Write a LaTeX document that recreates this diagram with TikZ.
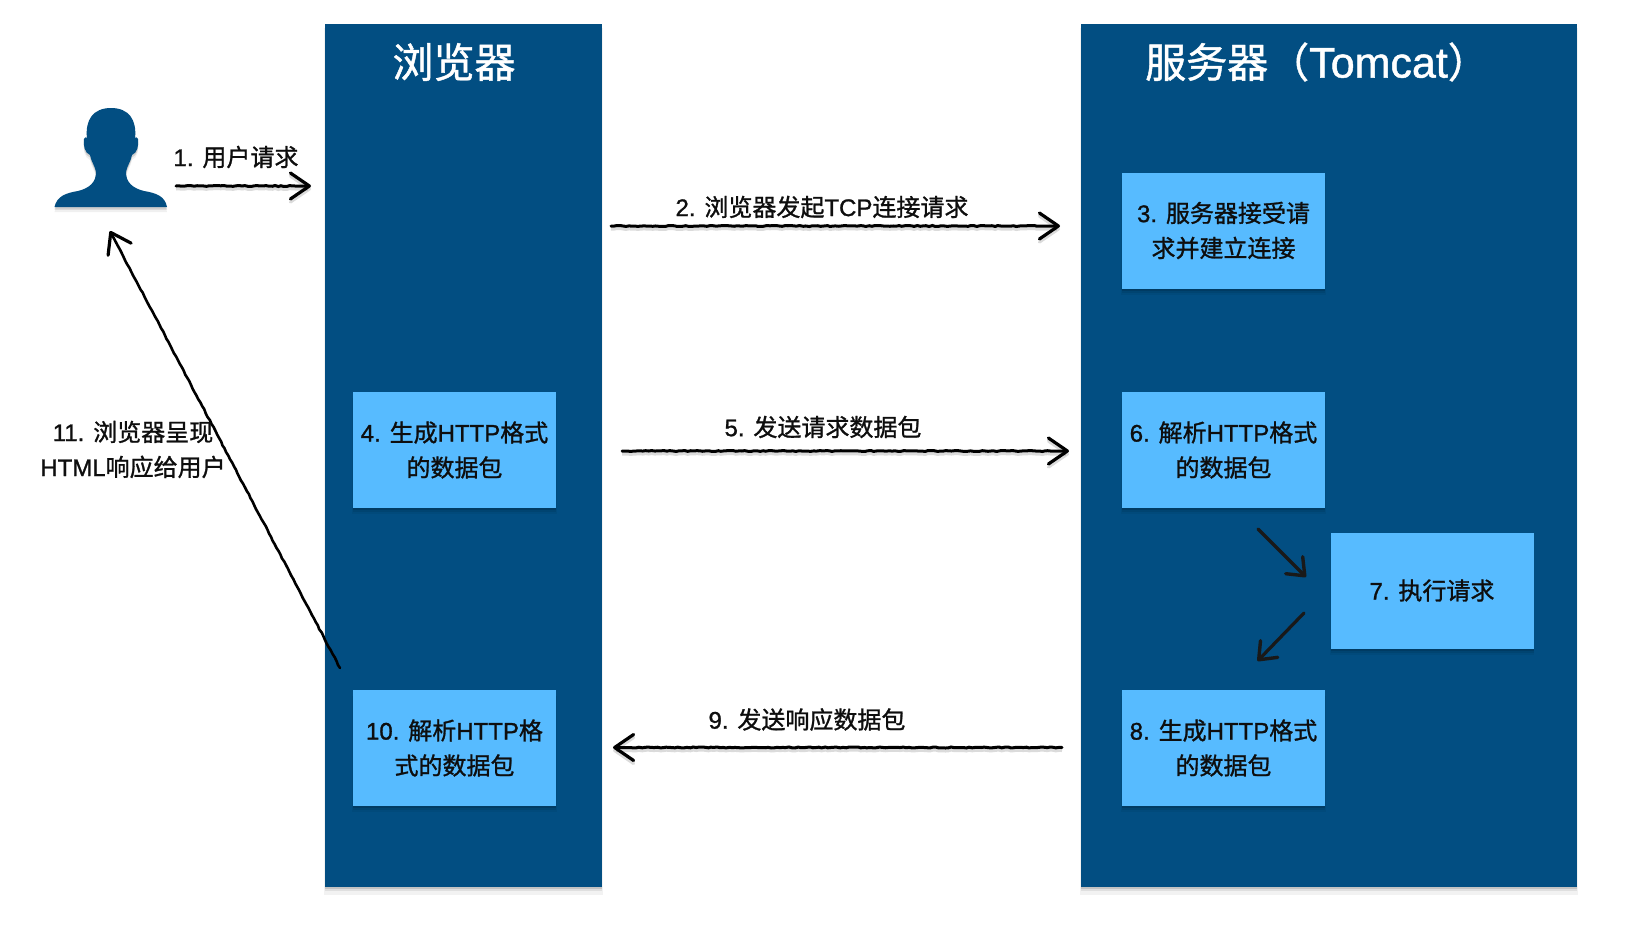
\documentclass[tikz,border=0pt]{standalone}
\usepackage{fontspec}
\setmainfont[FakeBold=1.1]{Liberation Sans}
\newfontfamily\cjk[FakeBold=1.1]{Noto Sans CJK SC}
\newcommand{\zh}[1]{{\cjk #1}}
\usetikzlibrary{arrows.meta,decorations.pathmorphing,shadows,positioning}
\definecolor{paneldark}{HTML}{024E82}
\definecolor{boxblue}{HTML}{57BBFF}
\definecolor{inkdark}{HTML}{0E0E0E}
\tikzset{
  x=1pt,y=-1pt,
  softshade/.style={
    drop shadow={shadow xshift=0pt,shadow yshift=-6pt,opacity=.05,fill=black,shadow scale=1.005},
    drop shadow={shadow xshift=0pt,shadow yshift=-4pt,opacity=.08,fill=black},
    drop shadow={shadow xshift=0pt,shadow yshift=-2pt,opacity=.12,fill=black}},
  panel/.style={rectangle,fill=paneldark,inner sep=0pt,softshade},
  stepbox/.style={rectangle,fill=boxblue,minimum width=203pt,minimum height=116pt,inner sep=0pt,
    align=center,text=inkdark,font=\fontsize{24}{35}\selectfont,softshade},
  title/.style={text=white,font=\fontsize{41}{46}\selectfont,inner sep=0pt},
  lab/.style={text=inkdark,font=\fontsize{24}{35}\selectfont,align=center,inner sep=0pt},
  flow/.style={draw=black,line width=3pt,line cap=round,
    -{Straight Barb[length=19pt,width=26pt,line width=3.2pt,round]},
    preaction={draw=black,draw opacity=.14,line width=3pt,transform canvas={yshift=-3pt}},
    decorate,decoration={random steps,segment length=3pt,amplitude=.5pt,post length=16pt,post=lineto}},
  flowlong/.style={draw=black,line width=2.6pt,line cap=round,
    -{Straight Barb[length=19pt,width=26pt,line width=3.2pt,round]},
    decorate,decoration={random steps,segment length=4pt,amplitude=.4pt,post length=16pt,post=lineto}},
  flowin/.style={draw=black!90,line width=3.2pt,line cap=round,
    -{Straight Barb[length=15pt,width=24pt,line width=3.4pt,round]}},
}
\pgfmathsetseed{7}
\begin{document}
\begin{tikzpicture}
\useasboundingbox (0,0) rectangle (1644,924);
\fill[white] (0,0) rectangle (1644,924);
% panels
\node[panel,minimum width=277pt,minimum height=863pt] (browser) at (463.5,455.5) {};
\node[panel,minimum width=496pt,minimum height=863pt] (server) at (1329,455.5) {};
\node[title] (browsertitle) at (454,62) {\zh{浏览器}};
\node[title] (servertitle) at (1317,62) {\zh{服务器（}{\fontsize{43}{46}\selectfont Tomcat}\zh{）}};
% person
\path[fill=paneldark,
  drop shadow={shadow xshift=0pt,shadow yshift=-5pt,opacity=.06,fill=black},
  drop shadow={shadow xshift=0pt,shadow yshift=-2.5pt,opacity=.14,fill=black}]
  (54.5,207)
  .. controls (57,196) and (66,193) .. (78,191)
  .. controls (90,188) and (96,182) .. (96,172)
  .. controls (95,166) and (91,161) .. (90,155)
  .. controls (85,153) and (83,146) .. (84,139)
  .. controls (85,137) and (86,137) .. (87,138)
  .. controls (85,120) and (93,108) .. (111,108)
  .. controls (129,108) and (137,120) .. (135,138)
  .. controls (136,137) and (137,137) .. (138,139)
  .. controls (139,146) and (137,153) .. (132,155)
  .. controls (131,161) and (127,166) .. (126,172)
  .. controls (126,182) and (132,188) .. (144,191)
  .. controls (156,193) and (165,196) .. (167,207)
  -- cycle;
% step boxes
\node[stepbox] (s3) at (1223.5,230.5) {3. \zh{服务器接受请}\\\zh{求并建立连接}};
\node[stepbox] (s4) at (454.5,450) {4. \zh{生成}HTTP\zh{格式}\\\zh{的数据包}};
\node[stepbox] (s6) at (1223.5,450) {6. \zh{解析}HTTP\zh{格式}\\\zh{的数据包}};
\node[stepbox] (s7) at (1432,590.5) {7. \zh{执行请求}};
\node[stepbox] (s8) at (1223.5,748) {8. \zh{生成}HTTP\zh{格式}\\\zh{的数据包}};
\node[stepbox] (s10) at (454.5,748) {10. \zh{解析}HTTP\zh{格}\\\zh{式的数据包}};
% free ends
\coordinate (a1s) at (176,186);   \coordinate (a1e) at (311,186);
\coordinate (a2s) at (611,226);   \coordinate (a2e) at (1060,226);
\coordinate (a5s) at (622,451);   \coordinate (a5e) at (1069,451);
\coordinate (a9s) at (1062,747.5);\coordinate (a9e) at (613,747.5);
\coordinate (a11s) at (340,668);  \coordinate (a11e) at (110,231);
\coordinate (a6s) at (1258,529);  \coordinate (a6e) at (1306,577);
\coordinate (a7s) at (1304,613);  \coordinate (a7e) at (1257.5,661);
% connectors
\path[flow] (a1s) -- (a1e);
\path[flow] (a2s) -- (a2e);
\path[flow] (a5s) -- (a5e);
\path[flow] (a9s) -- (a9e);
\path[flowlong] (a11s) -- (a11e);
\path[flowin] (a6s) -- (a6e);
\path[flowin] (a7s) -- (a7e);
% labels
\node[lab] (l1) at (236,157) {1. \zh{用户请求}};
\node[lab] (l2) at (822,207) {2. \zh{浏览器发起}TCP\zh{连接请求}};
\node[lab] (l5) at (823,427) {5. \zh{发送请求数据包}};
\node[lab] (l9) at (807,719.5) {9. \zh{发送响应数据包}};
\node[lab] (l11) at (133,449.5) {11. \zh{浏览器呈现}\\HTML\zh{响应给用户}};
\end{tikzpicture}
\end{document}
